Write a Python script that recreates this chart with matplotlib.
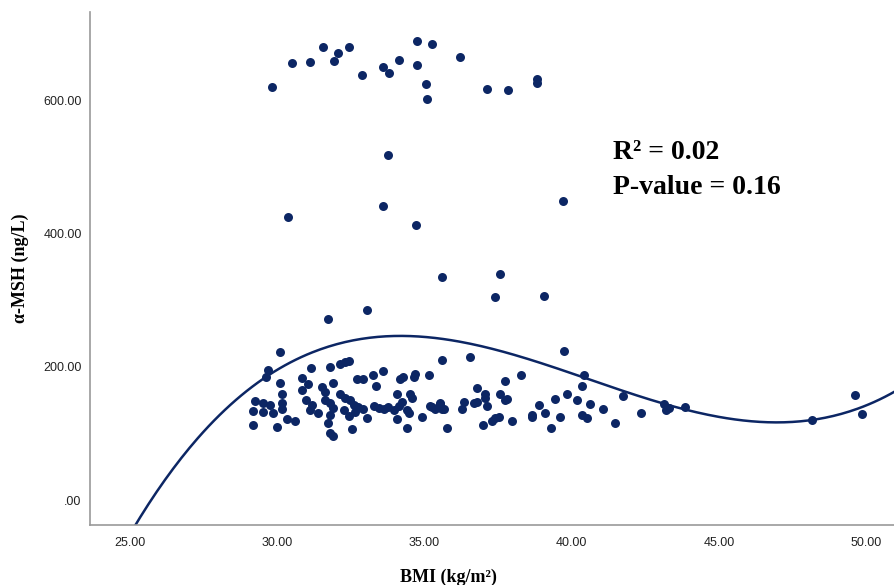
import numpy as np
import matplotlib.pyplot as plt

# BMI vs alpha-MSH
bmi = [
    29.82, 30.50, 31.10, 31.55, 32.06, 31.94, 32.45, 32.88, 33.60, 33.81,
    34.12, 34.76, 35.24, 34.75, 35.07, 35.09, 36.22, 37.11, 37.85, 38.81, 38.81,
    33.76, 30.35, 33.58, 34.72, 39.72, 35.60, 37.55, 37.41, 39.06, 33.05, 31.73,
    30.08, 29.67, 29.63, 30.10, 30.16, 29.25, 29.53, 29.76, 30.16, 29.17,
    29.53, 29.87, 30.16, 29.19, 29.99, 30.33, 30.61, 31.14, 30.85, 31.03,
    30.84, 30.99, 31.18, 31.12, 31.37, 31.52, 31.63, 31.80, 31.91, 31.63,
    31.80, 31.91, 31.80, 31.74, 31.80, 31.91, 32.14, 32.31, 32.43, 32.14,
    32.31, 32.48, 32.62, 32.26, 32.43, 32.65, 32.54, 32.71, 32.91, 33.25,
    33.59, 33.37, 32.76, 32.91, 33.05, 33.27, 33.44, 33.61, 33.75, 33.96,
    34.12, 34.24, 34.07, 34.18, 34.27, 34.52, 34.58, 34.64, 34.69, 34.41,
    34.47, 34.07, 34.41, 34.92, 35.20, 35.54, 35.60, 35.77, 35.16, 35.60,
    36.54, 39.74, 38.27, 37.72, 36.79, 37.07, 37.07, 37.11, 37.56, 37.72,
    37.81, 36.33, 36.68, 36.79, 36.28, 35.54, 35.65, 35.26, 35.37, 36.99,
    37.30, 37.41, 37.53, 37.96, 38.66, 38.66, 38.89, 39.09, 39.29, 39.42,
    39.59, 39.85, 40.17, 40.36, 40.53, 40.62, 40.42, 40.36, 41.07, 41.47,
    41.75, 42.35, 43.14, 43.31, 43.20, 43.84, 48.16, 49.63, 49.85,
]
msh = [
    621, 656, 658, 681, 672, 660, 680, 639, 650, 641,
    661, 690, 685, 654, 625, 602, 666, 618, 616, 632, 627,
    517.5, 424.5, 442, 413.5, 449.5, 335, 340, 304.5, 307, 286, 271.5,
    222.5, 196, 185, 176.5, 160, 149, 145, 142.5, 146, 133.5,
    132.5, 130, 136, 112.5, 110, 121, 119, 198.5, 183.5, 175,
    165, 150, 142.5, 135, 131, 170, 162.5, 200, 176.5, 150,
    145, 137.5, 127.5, 115, 100, 96, 205, 207.5, 208.5, 160,
    152.5, 150, 142.5, 135, 126, 132.5, 106, 182.5, 182.5, 187.5,
    194, 171, 140, 136, 122.5, 141, 137.5, 136, 140, 135,
    141, 147.5, 160, 182.5, 185, 160, 152.5, 185, 189, 135,
    130, 121, 107.5, 124, 141, 145, 136, 107.5, 187.5, 211,
    215, 223.5, 187.5, 178.5, 169, 160, 152.5, 141, 160, 150,
    151, 147.5, 146, 147.5, 136.5, 144, 136, 140, 136, 112.5,
    119, 122.5, 125, 119, 125, 127.5, 142.5, 130, 107.5, 151,
    124, 159, 150, 127.5, 123.5, 144, 187.5, 171, 136, 115,
    156, 130, 144, 137.5, 135, 140, 120, 157.5, 128.5,
]

# points
curve_x = [25.28, 28.40, 29.53, 30.67, 31.80, 33.50, 35.20, 36.34, 37.47, 38.61,
           39.74, 40.87, 42.01, 43.14, 44.95, 47.22, 48.16, 49.49, 50.99]
curve_y = [-32.5, 135, 187.5, 220, 237.5, 244, 241, 236, 222.5, 205,
           190, 175, 160, 147.5, 132.5, 120, 121, 132.5, 160]

x_ticks = [25, 30, 35, 40, 45, 50]
x_labels = ['25.00', '30.00', '35.00', '40.00', '45.00', '50.00']
y_ticks = [0, 200, 400, 600]
y_labels = ['.00', '200.00', '400.00', '600.00']

navy = '#0c2664'

fig = plt.figure(figsize=(8.94, 5.85), dpi=100)
ax = fig.add_axes([90 / 894, 60 / 585, 804 / 894, 513 / 585])

ax.scatter(bmi, msh, s=42, color=navy, zorder=3, linewidths=0)

coef = np.polyfit(curve_x, curve_y, 3)
xs = np.linspace(23.5, 51.2, 300)
ax.plot(xs, np.polyval(coef, xs), color=navy, lw=1.8, zorder=2)

ax.set_xlim(23.64, 50.95)
ax.set_ylim(-37.5, 733)
ax.set_xticks(x_ticks)
ax.set_xticklabels(x_labels)
ax.set_yticks(y_ticks)
ax.set_yticklabels(y_labels)

for s in ['top', 'right']:
    ax.spines[s].set_visible(False)
for s in ['left', 'bottom']:
    ax.spines[s].set_color('#999999')
    ax.spines[s].set_linewidth(1.2)

ax.tick_params(length=0, labelsize=9, colors='#222222')
ax.tick_params(axis='x', pad=9)
ax.tick_params(axis='y', pad=6)
for lab in ax.get_xticklabels() + ax.get_yticklabels():
    lab.set_family('Liberation Sans')

ax.set_xlabel('BMI (kg/m²)', family='Liberation Serif',
              fontweight='bold', fontsize=13)
ax.xaxis.set_label_coords((448 - 90) / 804, -0.085)
ax.set_ylabel('α-MSH (ng/L)', family='Liberation Serif',
              fontweight='bold', fontsize=13, labelpad=10)

ax.text(41.4, 522, 'R² = 0.02', family='Liberation Serif',
        fontweight='bold', fontsize=20, va='center')
ax.text(41.4, 469, 'P-value = 0.16', family='Liberation Serif',
        fontweight='bold', fontsize=20, va='center')

plt.savefig('out.png', dpi=100)
